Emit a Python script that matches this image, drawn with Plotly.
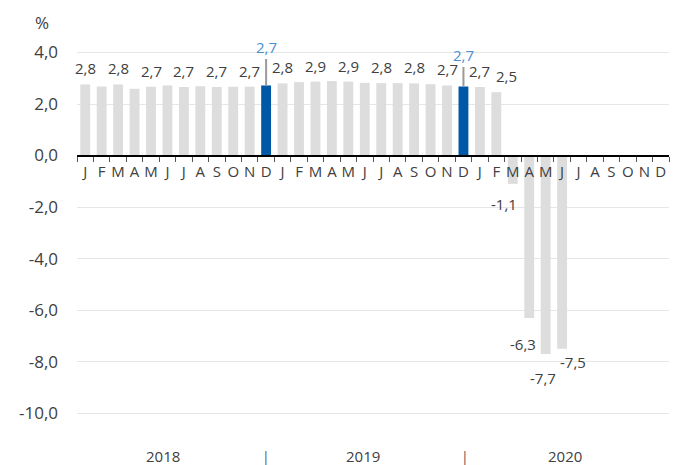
import plotly.graph_objects as go

# ---------------- data ----------------
years = ["2018", "2019", "2020"]
month_letters = ["J", "F", "M", "A", "M", "J", "J", "A", "S", "O", "N", "D"]

values_2018 = [2.76, 2.68, 2.76, 2.59, 2.67, 2.72, 2.66, 2.69, 2.66, 2.67, 2.67, 2.72]
values_2019 = [2.80, 2.85, 2.87, 2.89, 2.87, 2.82, 2.81, 2.81, 2.80, 2.77, 2.72, 2.68]
values_2020 = [2.66, 2.46, -1.1, -6.3, -7.7, -7.5, None, None, None, None, None, None]

highlight = ["2018-12", "2019-12"]
labeled = ["2018-01", "2018-03", "2018-05", "2018-07", "2018-09", "2018-11",
           "2019-01", "2019-03", "2019-05", "2019-07", "2019-09", "2019-11",
           "2020-01", "2020-02", "2020-03", "2020-04", "2020-05", "2020-06"]

y_ticks = [4, 2, 0, -2, -4, -6, -8, -10]

year_label_pos = [4.7, 16.9, 29.2]
separator_pos = [11.0, 23.1]

# ---------------- build ----------------
cats = [f"{y}-{m + 1:02d}" for y in years for m in range(12)]
vals = values_2018 + values_2019 + values_2020
ticktext = month_letters * len(years)

GRAY = "#dddddd"
BLUE = "#0059a6"
colors = [BLUE if c in highlight else GRAY for c in cats]

fig = go.Figure(go.Bar(x=cats, y=vals, marker=dict(color=colors, line=dict(width=0)),
                       width=0.6, hoverinfo="x+y"))

ymin, ymax = -11.0, 4.6
axis_pos = (0 - ymin) / (ymax - ymin)

def fmt(v):
    return f"{v:.1f}".replace(".", ",")

annotations = []
neg_shift = {"2020-03": (-9, -8), "2020-04": (-6, -14), "2020-05": (-3, -12), "2020-06": (11, -1)}
pos_shift = {"2020-02": 10}
for c, v in zip(cats, vals):
    if v is None:
        continue
    if c in highlight:
        ay = -38 if c == "2018-12" else -31
        annotations.append(dict(x=c, y=v, text=fmt(v), showarrow=True, arrowhead=0,
                                arrowwidth=2, arrowcolor="#9a9a9a", ax=0, ay=ay, standoff=0,
                                font=dict(size=15, color="#4a8fd1")))
    elif c in labeled:
        if v >= 0:
            annotations.append(dict(x=c, y=v, text=fmt(v), showarrow=False, yanchor="bottom",
                                    yshift=4, xshift=pos_shift.get(c, 0),
                                    font=dict(size=15, color="#404040")))
        else:
            xs, ys = neg_shift.get(c, (0, -10))
            annotations.append(dict(x=c, y=v, text=fmt(v), showarrow=False, yanchor="top",
                                    yshift=ys, xshift=xs,
                                    font=dict(size=15, color="#404040")))

for yl, xp in zip(years, year_label_pos):
    annotations.append(dict(x=xp, xref="x", y=0, yref="paper", text=yl, showarrow=False,
                            yanchor="middle", yshift=-17, font=dict(size=15, color="#404040")))
for xp in separator_pos:
    annotations.append(dict(x=xp, xref="x", y=0, yref="paper", text="|", showarrow=False,
                            yanchor="middle", yshift=-17, font=dict(size=14, color="#555555")))

annotations.append(dict(x=-0.059, xref="paper", y=1.037, yref="paper", text="%",
                        showarrow=False, xanchor="center", yanchor="middle",
                        font=dict(size=17, color="#404040")))

fig.update_layout(
    width=676, height=465,
    margin=dict(l=77, r=7, t=37, b=26, autoexpand=False),
    paper_bgcolor="white", plot_bgcolor="white",
    separators=",.",
    showlegend=False,
    bargap=0.4,
    font=dict(family="Open Sans, DejaVu Sans, sans-serif", color="#404040"),
    xaxis=dict(type="category", categoryorder="array", categoryarray=cats,
               tickmode="array", tickvals=cats, ticktext=ticktext, tickangle=0,
               tickson="boundaries", ticks="outside", ticklen=5, tickcolor="#555555",
               tickwidth=1, showline=True, linecolor="#000000", linewidth=2,
               anchor="free", position=axis_pos, showgrid=False, automargin=False,
               tickfont=dict(size=15, color="#404040"), ticklabelstandoff=2,
               range=[-0.5, 35.5], fixedrange=True),
    yaxis=dict(range=[ymin, ymax], tickmode="array", tickvals=y_ticks,
               ticktext=[fmt(t) for t in y_ticks], automargin=False,
               showgrid=True, gridcolor="#e6e6e6", gridwidth=1, zeroline=False,
               showline=False, ticks="", tickfont=dict(size=17, color="#404040"),
               ticklabelstandoff=18, fixedrange=True),
    annotations=annotations,
)

fig.write_html("out.html", config={"displayModeBar": False},
               post_script="document.body.style.margin='0px';document.body.style.overflow='hidden';")
